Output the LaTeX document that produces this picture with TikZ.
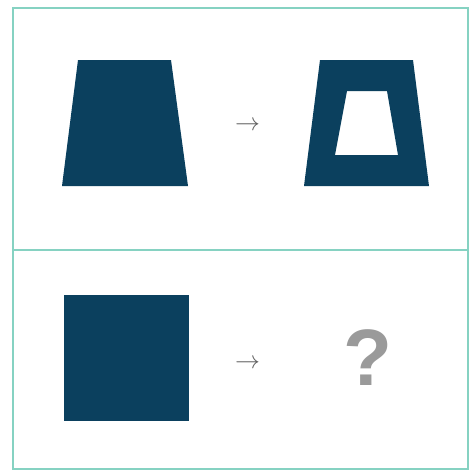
\documentclass[tikz,border=0pt]{standalone}
\usepackage{fontspec}
\newfontfamily\qfont{Liberation Sans}
\definecolor{frameteal}{HTML}{86D2C2}
\definecolor{shapeblue}{HTML}{0B405E}
\definecolor{arrowgray}{HTML}{5F5F5F}
\definecolor{qgray}{HTML}{9A9A9A}
\begin{document}
\begin{tikzpicture}[x=1pt,y=-1pt,
  panel/.style={draw=frameteal,line width=1.8pt},
  solid shape/.style={fill=shapeblue,draw=none},
  arrowtext/.style={text=arrowgray,inner sep=0pt,font=\fontsize{30}{30}\selectfont},
  qmark/.style={text=qgray,inner sep=0pt,font=\qfont\bfseries\fontsize{80}{80}\selectfont}]
\useasboundingbox (0,0) rectangle (470,472);
\fill[white] (0,0) rectangle (470,472);
% panels
\draw[panel] (13,8) rectangle (468,250);
\draw[panel] (13,250) rectangle (468,469);
% top row
\fill[solid shape] (78,60) -- (171,60) -- (188,186) -- (62,186) -- cycle;
\node[arrowtext] (a1) at (247.5,126) {$\rightarrow$};
\fill[solid shape,even odd rule] (320,60) -- (413,60) -- (429,186) -- (304,186) -- cycle
  (347,91) -- (387,91) -- (398,155) -- (335,155) -- cycle;
% bottom row
\fill[solid shape] (64,295) rectangle (189,421);
\node[arrowtext] (a2) at (247.5,364) {$\rightarrow$};
\node[qmark] (q) at (367.5,358) {?};
\end{tikzpicture}
\end{document}
